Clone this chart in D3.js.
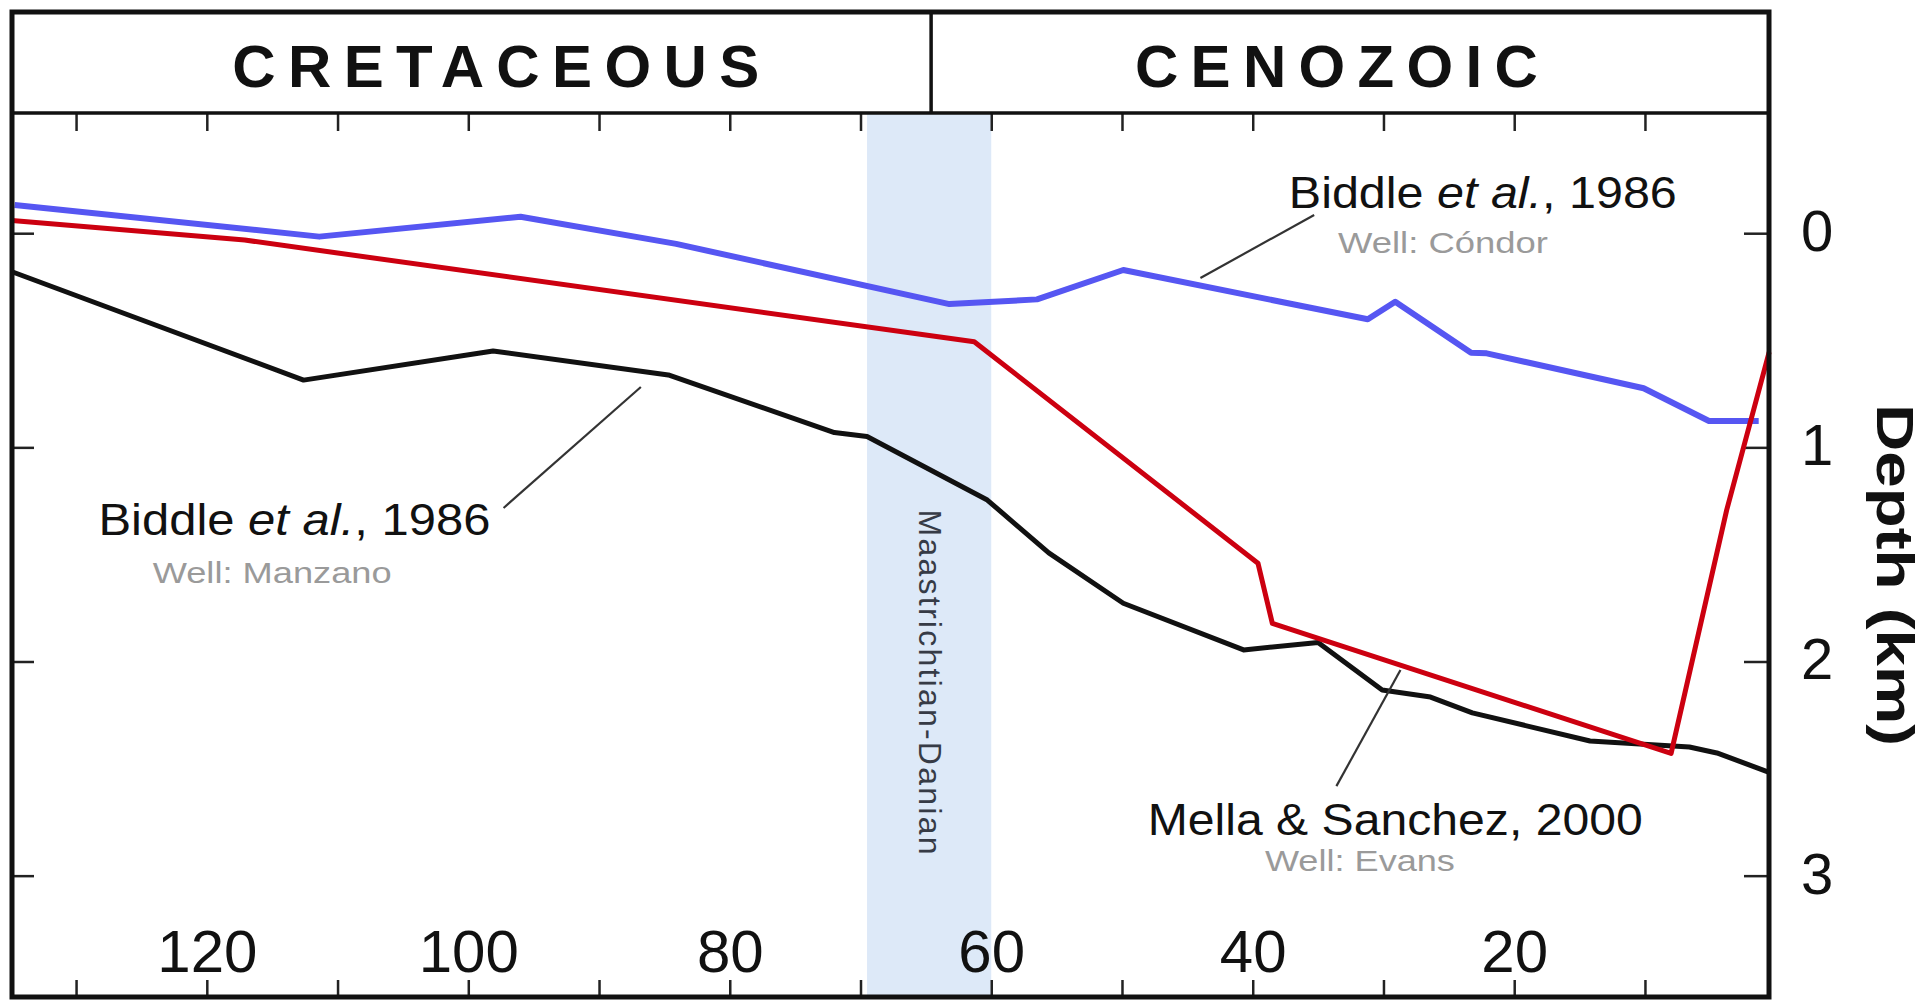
<!DOCTYPE html>
<html>
<head>
<meta charset="utf-8">
<script src="https://cdn.jsdelivr.net/npm/d3@7/dist/d3.min.js"></script>
<style>
  html, body { margin: 0; padding: 0; background: #ffffff; }
  svg { display: block; font-family: "Liberation Sans", Arial, sans-serif; }
</style>
</head>
<body>
<svg id="chart" width="1925" height="1000"></svg>
<script>
// Burial history curves: age (Ma) vs depth (km)
const condorWell = [
  [134.7, -0.132], [111.4, 0.016], [96.0, -0.077], [84.1, 0.050],
  [63.2, 0.331], [56.5, 0.309], [49.9, 0.172], [31.2, 0.402],
  [29.1, 0.320], [23.3, 0.558], [22.1, 0.561], [10.1, 0.724],
  [5.1, 0.877], [1.3, 0.877]
];
const manzanoWell = [
  [134.9, 0.180], [112.6, 0.686], [98.1, 0.550], [84.7, 0.662],
  [72.0, 0.931], [69.5, 0.949], [60.3, 1.246], [55.6, 1.493],
  [49.9, 1.728], [40.7, 1.946], [35.0, 1.911], [30.1, 2.133],
  [26.4, 2.166], [23.2, 2.240], [14.2, 2.371], [6.6, 2.399],
  [4.5, 2.427], [0.6, 2.515]
];
const evansWell = [
  [134.9, -0.059], [117.1, 0.032], [61.3, 0.507], [39.6, 1.541],
  [38.5, 1.822], [8.0, 2.429], [3.75, 1.293], [0.5, 0.555]
];

const ageTicks = [130, 120, 110, 100, 90, 80, 70, 60, 50, 40, 30, 20, 10];
const ageLabels = [120, 100, 80, 60, 40, 20];
const depthTicks = [0, 1, 2, 3];
const eras = [
  { name: "CRETACEOUS", center: 97.9, width: 527 },
  { name: "CENOZOIC", center: 33.6, width: 403 }
];
const eraBoundary = 64.6;
const band = { from: 69.5, to: 60, label: "Maastrichtian-Danian" };

// Annotations: label text, anchor position and leader line in data units
const annotations = [
  { author: "Biddle ", italic: "et al.", tail: ", 1986", well: "Well: Cóndor",
    at: [22.4, -0.118], titleWidth: 388, wellAt: [25.45, 0.092], wellWidth: 210,
    leader: [[35.3, -0.085], [44.0, 0.209]] },
  { author: "Biddle ", italic: "et al.", tail: ", 1986", well: "Well: Manzano",
    at: [113.3, 1.409], titleWidth: 392, wellAt: [115.0, 1.633], wellWidth: 239,
    leader: [[86.8, 0.718], [97.3, 1.283]] },
  { author: "Mella & Sanchez, 2000", italic: "", tail: "", well: "Well: Evans",
    at: [29.1, 2.810], titleWidth: 495, wellAt: [31.8, 2.978], wellWidth: 190,
    leader: [[28.7, 2.040], [33.6, 2.582]] }
];

// Frame geometry
const frame = { left: 12, right: 1769, top: 12, header: 113, bottom: 997 };

const svg = d3.select("#chart");

const x = d3.scaleLinear().domain([134.9, 0.55]).range([frame.left, 1768.5]);
const y = d3.scaleLinear().domain([0, 3]).range([233.2, 875.65]);

// Stage band
svg.append("rect")
  .attr("x", x(band.from))
  .attr("y", frame.header)
  .attr("width", x(band.to) - x(band.from))
  .attr("height", frame.bottom - frame.header)
  .attr("fill", "#dde9f8");

svg.append("text")
  .attr("transform", `translate(${(x(band.from) + x(band.to)) / 2 - 10},${(frame.header + frame.bottom) / 2 + 127}) rotate(90)`)
  .attr("text-anchor", "middle")
  .attr("font-size", 32)
  .attr("fill", "#363b46")
  .attr("textLength", 345)
  .attr("lengthAdjust", "spacing")
  .text(band.label);

// Axes (ticks only on three sides, labelled ticks at bottom and right)
function styleAxis(g) {
  g.select(".domain").remove();
  g.selectAll(".tick line").attr("stroke", "#222").attr("stroke-width", 2.5);
}

svg.append("g")
  .attr("transform", `translate(0,${frame.header})`)
  .call(d3.axisBottom(x).tickValues(ageTicks).tickSize(18).tickFormat(""))
  .call(styleAxis);

svg.append("g")
  .attr("transform", `translate(0,${frame.bottom})`)
  .call(d3.axisTop(x).tickValues(ageTicks).tickSize(17).tickPadding(8)
    .tickFormat(d => ageLabels.includes(d) ? d : ""))
  .call(styleAxis)
  .call(g => g.selectAll(".tick text")
    .attr("font-size", 60).attr("font-family", "Liberation Sans, Arial, sans-serif")
    .attr("fill", "#111"));

svg.append("g")
  .attr("transform", `translate(${frame.left},0)`)
  .call(d3.axisRight(y).tickValues(depthTicks).tickSize(22).tickFormat(""))
  .call(styleAxis);

svg.append("g")
  .attr("transform", `translate(${frame.right},0)`)
  .call(d3.axisRight(y).tickValues(depthTicks).tickSize(-25).tickPadding(32)
    .tickFormat(d3.format("d")))
  .call(styleAxis)
  .call(g => g.selectAll(".tick text")
    .attr("font-size", 58).attr("font-family", "Liberation Sans, Arial, sans-serif")
    .attr("fill", "#111").attr("dy", "0.3em"));

svg.append("text")
  .attr("transform", "translate(1877,575) rotate(90)")
  .attr("text-anchor", "middle")
  .attr("font-size", 52)
  .attr("font-weight", "bold")
  .attr("fill", "#111")
  .attr("textLength", 342)
  .attr("lengthAdjust", "spacingAndGlyphs")
  .text("Depth (km)");

// Curves
const line = d3.line().x(d => x(d[0])).y(d => y(d[1]));

svg.append("path").datum(condorWell)
  .attr("d", line).attr("fill", "none")
  .attr("stroke", "#5656f2").attr("stroke-width", 6).attr("stroke-linejoin", "round");

svg.append("path").datum(manzanoWell)
  .attr("d", line).attr("fill", "none")
  .attr("stroke", "#111").attr("stroke-width", 5).attr("stroke-linejoin", "round");

svg.append("path").datum(evansWell)
  .attr("d", line).attr("fill", "none")
  .attr("stroke", "#cc0010").attr("stroke-width", 5).attr("stroke-linejoin", "round");

// Leader lines and labels
const ann = svg.append("g");
annotations.forEach(a => {
  ann.append("line")
    .attr("x1", x(a.leader[0][0])).attr("y1", y(a.leader[0][1]))
    .attr("x2", x(a.leader[1][0])).attr("y2", y(a.leader[1][1]))
    .attr("stroke", "#333").attr("stroke-width", 2.2);

  const t = ann.append("text")
    .attr("x", x(a.at[0])).attr("y", y(a.at[1]))
    .attr("text-anchor", "middle")
    .attr("font-size", 45)
    .attr("fill", "#111")
    .attr("textLength", a.titleWidth)
    .attr("lengthAdjust", "spacingAndGlyphs");
  t.append("tspan").text(a.author);
  if (a.italic) {
    t.append("tspan").attr("font-style", "italic").text(a.italic);
    t.append("tspan").text(a.tail);
  }

  ann.append("text")
    .attr("x", x(a.wellAt[0])).attr("y", y(a.wellAt[1]))
    .attr("text-anchor", "middle")
    .attr("font-size", 30)
    .attr("fill", "#9a9a9a")
    .attr("textLength", a.wellWidth)
    .attr("lengthAdjust", "spacingAndGlyphs")
    .text(a.well);
});

// Header with geological eras
svg.append("line")
  .attr("x1", frame.left).attr("x2", frame.right)
  .attr("y1", frame.header).attr("y2", frame.header)
  .attr("stroke", "#111").attr("stroke-width", 3.5);

svg.append("line")
  .attr("x1", x(eraBoundary)).attr("x2", x(eraBoundary))
  .attr("y1", frame.top).attr("y2", frame.header)
  .attr("stroke", "#111").attr("stroke-width", 3.5);

svg.selectAll("text.era").data(eras).join("text")
  .attr("class", "era")
  .attr("x", d => x(d.center))
  .attr("y", 87)
  .attr("text-anchor", "middle")
  .attr("font-size", 60)
  .attr("font-weight", "bold")
  .attr("fill", "#111")
  .attr("textLength", d => d.width)
  .attr("lengthAdjust", "spacing")
  .text(d => d.name);

// Outer frame
svg.append("rect")
  .attr("x", frame.left).attr("y", frame.top)
  .attr("width", frame.right - frame.left)
  .attr("height", frame.bottom - frame.top)
  .attr("fill", "none")
  .attr("stroke", "#111").attr("stroke-width", 5);
</script>
</body>
</html>
